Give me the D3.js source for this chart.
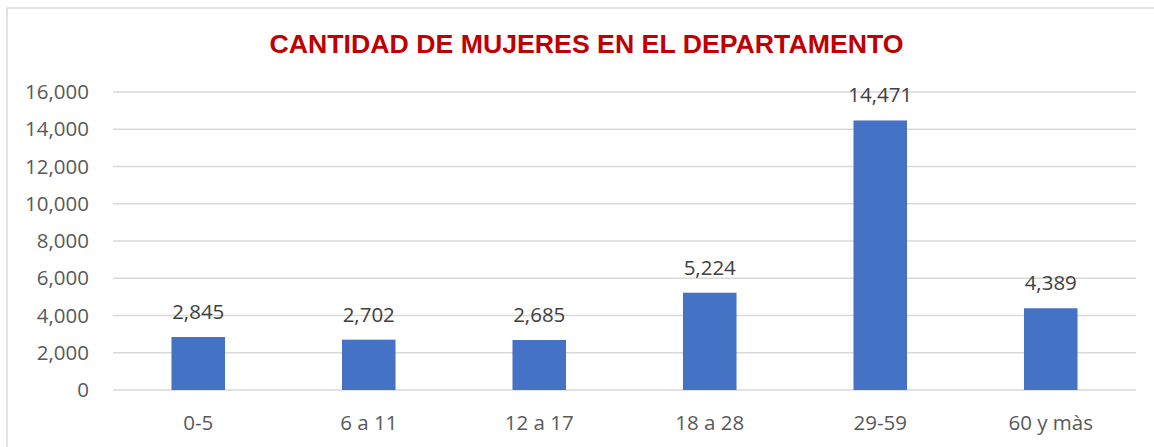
<!DOCTYPE html>
<html>
<head>
<meta charset="utf-8">
<script src="https://cdn.jsdelivr.net/npm/d3@7"></script>
<style>
  html, body { margin: 0; padding: 0; background: #fff; }
  svg { display: block; }
</style>
</head>
<body>
<svg id="chart" width="1154" height="447"></svg>
<script>
const titleText = "CANTIDAD DE MUJERES EN EL DEPARTAMENTO";
const categories = ["0-5", "6 a 11", "12 a 17", "18 a 28", "29-59", "60 y màs"];
const values = [2845, 2702, 2685, 5224, 14471, 4389];
const yTicks = [0, 2000, 4000, 6000, 8000, 10000, 12000, 14000, 16000];

const svg = d3.select("#chart");
const W = 1154, H = 447;
const plot = { left: 113, right: 1136, top: 92, bottom: 390 };
const textColor = "#595959";
const gridColor = "#D9D9D9";
const font = "'Open Sans', sans-serif";

// chart border (left & top visible)
svg.append("line").attr("x1", 7).attr("x2", 7).attr("y1", 8).attr("y2", H)
  .attr("stroke", gridColor).attr("stroke-width", 1.5);
svg.append("line").attr("x1", 7).attr("x2", W).attr("y1", 8).attr("y2", 8)
  .attr("stroke", gridColor).attr("stroke-width", 1.5);

const x = d3.scaleBand().domain(categories)
  .range([plot.left, plot.right])
  .paddingInner(0.686).paddingOuter(0.343);
const y = d3.scaleLinear().domain([0, 16000]).range([plot.bottom, plot.top]);

// gridlines
svg.append("g").selectAll("line").data(yTicks).join("line")
  .attr("x1", plot.left).attr("x2", plot.right)
  .attr("y1", d => y(d)).attr("y2", d => y(d))
  .attr("stroke", gridColor).attr("stroke-width", 1.5);

// y axis labels
const yAxis = d3.axisLeft(y).tickValues(yTicks).tickFormat(d3.format(",")).tickSize(0).tickPadding(24);
const gy = svg.append("g").attr("transform", `translate(${plot.left},0)`).call(yAxis);
gy.select(".domain").remove();
gy.selectAll("text").attr("fill", textColor).style("font-family", font).style("font-size", "20.5px");

// x axis labels
const xAxis = d3.axisBottom(x).tickSize(0).tickPadding(0);
const gx = svg.append("g").attr("transform", `translate(0,${plot.bottom})`).call(xAxis);
gx.select(".domain").remove();
gx.selectAll("text").attr("fill", textColor).attr("dy", null).attr("y", 40)
  .style("font-family", font).style("font-size", "20.5px");

// bars
svg.append("g").selectAll("rect").data(values).join("rect")
  .attr("x", (d, i) => x(categories[i]))
  .attr("width", x.bandwidth())
  .attr("y", d => y(d))
  .attr("height", d => y(0) - y(d))
  .attr("fill", "#4472C4");

// data labels
svg.append("g").selectAll("text").data(values).join("text")
  .attr("x", (d, i) => x(categories[i]) + x.bandwidth() / 2)
  .attr("y", d => y(d) - 18)
  .attr("text-anchor", "middle")
  .attr("fill", "#404040")
  .style("font-family", font).style("font-size", "20.5px")
  .text(d => d3.format(",")(d));

// title
svg.append("text").attr("x", 586.5).attr("y", 53.3)
  .attr("text-anchor", "middle")
  .attr("fill", "#C00000")
  .style("font-family", "'Liberation Sans', Arial, sans-serif")
  .style("font-weight", "bold").style("font-size", "26.7px")
  .text(titleText);
</script>
</body>
</html>
